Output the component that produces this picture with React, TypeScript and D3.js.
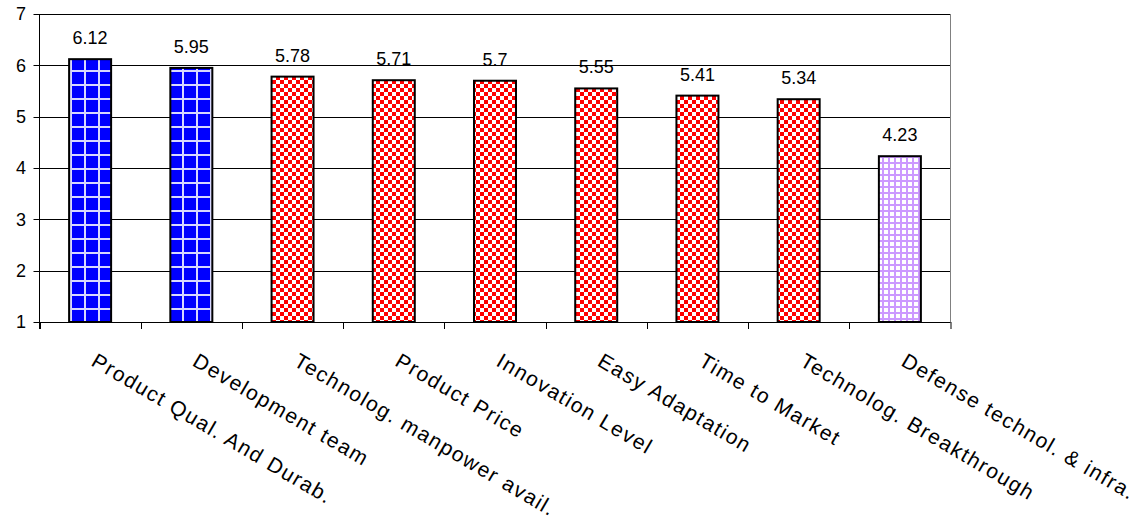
import React from "react";
import * as d3 from "d3";

const categories = [
  "Product Qual. And Durab.",
  "Development team",
  "Technolog. manpower avail.",
  "Product Price",
  "Innovation Level",
  "Easy Adaptation",
  "Time to Market",
  "Technolog. Breakthrough",
  "Defense technol. & infra.",
];
const values = [6.12, 5.95, 5.78, 5.71, 5.7, 5.55, 5.41, 5.34, 4.23];
const valueLabels = ["6.12", "5.95", "5.78", "5.71", "5.7", "5.55", "5.41", "5.34", "4.23"];
const groups = ["blue", "blue", "red", "red", "red", "red", "red", "red", "purple"];
const yTicks = [1, 2, 3, 4, 5, 6, 7];

const W = 1146;
const H = 521;
const left = 39.5;
const right = 950.5;
const top = 14;
const bottom = 322;
const font = "'Liberation Sans', Arial, sans-serif";

export default function App() {
  const x = d3.scaleBand<string>().domain(categories).range([left, right]).paddingInner(0).paddingOuter(0);
  const y = d3.scaleLinear().domain([1, 7]).range([bottom, top]);
  const bw = 42;
  const fillFor = (g: string) => (g === "blue" ? "url(#pBlue)" : g === "red" ? "url(#pRed)" : "url(#pPurple)");
  const boundaries = d3.range(categories.length + 1).map((i) => left + i * x.bandwidth());

  return (
    <svg width={W} height={H} style={{ position: "fixed", left: 0, top: 0, background: "#fff" }} fontFamily={font}>
      <defs>
        <pattern id="pBlue" patternUnits="userSpaceOnUse" width={14} height={14} x={0} y={0}>
          <rect width={14} height={14} fill="#d8d8ff" />
          <rect x={2} y={2} width={12} height={12} fill="#0000ff" />
        </pattern>
        <pattern id="pRed" patternUnits="userSpaceOnUse" width={8} height={8}>
          <rect width={8} height={8} fill="#ffffff" />
          <rect width={4} height={4} fill="#ff0000" />
          <rect x={4} y={4} width={4} height={4} fill="#ff0000" />
        </pattern>
        <pattern id="pPurple" patternUnits="userSpaceOnUse" width={6} height={6}>
          <rect width={6} height={6} fill="#cc99ff" />
          <rect x={2} y={2} width={4} height={4} fill="#ffffff" />
        </pattern>
      </defs>
      {/* gridlines */}
      {yTicks.map((t) => (
        <line key={"g" + t} x1={left} x2={right} y1={Math.round(y(t)) + 0.5} y2={Math.round(y(t)) + 0.5} stroke="#000" strokeWidth={1} />
      ))}
      {/* right border */}
      <line x1={right} x2={right} y1={top} y2={bottom + 7} stroke="#808080" strokeWidth={1} />
      {/* bars */}
      {categories.map((c, i) => {
        const cx = (x(c) as number) + x.bandwidth() / 2;
        const yt = y(values[i]);
        return (
          <g key={c}>
            <rect x={cx - bw / 2} y={yt} width={bw} height={bottom - yt} fill={fillFor(groups[i])} stroke="#000" strokeWidth={2} />
            <text x={cx} y={yt - 15} textAnchor="middle" fontSize={18} fill="#000">
              {valueLabels[i]}
            </text>
          </g>
        );
      })}
      {/* x axis */}
      <line x1={left} x2={right} y1={bottom + 0.5} y2={bottom + 0.5} stroke="#000" strokeWidth={1} />
      {boundaries.map((bx, i) => (
        <line key={"xt" + i} x1={Math.round(bx) + 0.5} x2={Math.round(bx) + 0.5} y1={bottom} y2={bottom + 7} stroke={i === categories.length ? "#808080" : "#000"} strokeWidth={1} />
      ))}
      {/* y axis */}
      <line x1={left} x2={left} y1={top} y2={bottom + 7} stroke="#000" strokeWidth={1} />
      {yTicks.map((t) => (
        <g key={"yt" + t}>
          <line x1={left - 6} x2={left} y1={Math.round(y(t)) + 0.5} y2={Math.round(y(t)) + 0.5} stroke="#000" strokeWidth={1} />
          <text x={26} y={y(t)} dy="0.35em" textAnchor="end" fontSize={18} fill="#000">
            {t}
          </text>
        </g>
      ))}
      {/* category labels */}
      {categories.map((c) => {
        const cx = (x(c) as number) + x.bandwidth() / 2;
        return (
          <text key={"cl" + c} transform={`translate(${cx},${365}) rotate(30.5)`} textAnchor="start" fontSize={21} letterSpacing={1.5} fill="#000">
            {c}
          </text>
        );
      })}
    </svg>
  );
}
